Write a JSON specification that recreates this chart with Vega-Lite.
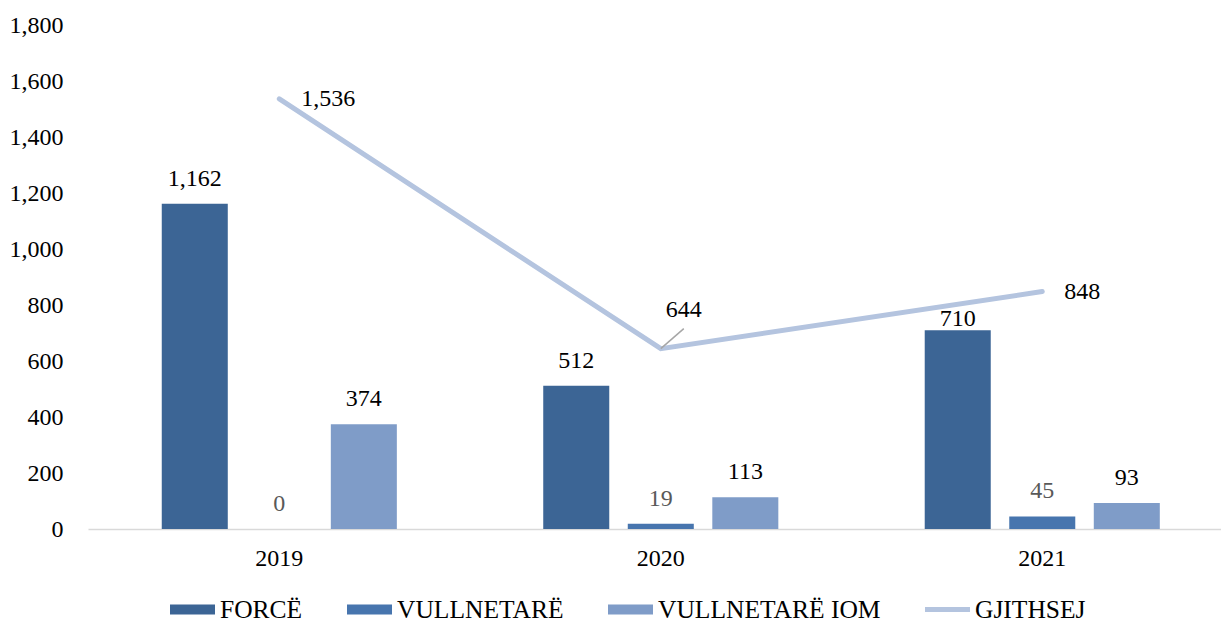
{
  "$schema": "https://vega.github.io/schema/vega-lite/v6.json",
  "autosize": "none",
  "width": 1133,
  "height": 504,
  "padding": {"left": 88, "top": 25, "right": 0, "bottom": 95},
  "config": {
    "font": "Liberation Serif",
    "view": {"stroke": null},
    "axis": {"labelFont": "Liberation Serif", "labelFontSize": 24, "labelColor": "#000000", "grid": false, "ticks": false, "labelOverlap": false, "labelFlush": false}
  },
  "datasets": {
    "bars": [
      {"year": "2019", "series": "FORCË", "value": 1162},
      {"year": "2019", "series": "VULLNETARË", "value": 0},
      {"year": "2019", "series": "VULLNETARË IOM", "value": 374},
      {"year": "2020", "series": "FORCË", "value": 512},
      {"year": "2020", "series": "VULLNETARË", "value": 19},
      {"year": "2020", "series": "VULLNETARË IOM", "value": 113},
      {"year": "2021", "series": "FORCË", "value": 710},
      {"year": "2021", "series": "VULLNETARË", "value": 45},
      {"year": "2021", "series": "VULLNETARË IOM", "value": 93}
    ],
    "totals": [
      {"year": "2019", "total": 1536},
      {"year": "2020", "total": 644},
      {"year": "2021", "total": 848}
    ]
  },
  "encoding": {
    "x": {
      "field": "year", "type": "nominal",
      "scale": {"paddingInner": 0.335, "paddingOuter": 0.1525, "align": 0.554},
      "axis": {"title": null, "labelAngle": 0, "labelPadding": 17, "domainColor": "#D9D9D9", "domainWidth": 1.5}
    },
    "y": {
      "type": "quantitative",
      "scale": {"domain": [0, 1800], "nice": false},
      "axis": {"title": null, "format": ",d", "domain": false, "labelPadding": 25, "values": [0,200,400,600,800,1000,1200,1400,1600,1800]}
    }
  },
  "layer": [
    {
      "data": {"name": "bars"},
      "mark": {"type": "bar"},
      "encoding": {
        "xOffset": {"field": "series", "type": "nominal", "scale": {"paddingInner": 0.219, "paddingOuter": 0.11}, "sort": ["FORCË", "VULLNETARË", "VULLNETARË IOM"]},
        "y": {"field": "value", "type": "quantitative"},
        "color": {
          "field": "series", "type": "nominal",
          "scale": {
            "domain": ["FORCË", "VULLNETARË", "VULLNETARË IOM", "GJITHSEJ"],
            "range": ["#3C6595", "#4775AE", "#7F9CC8", "#B4C4DF"]
          },
          "legend": {
            "title": null,
            "orient": "none",
            "direction": "horizontal",
            "legendX": 82,
            "legendY": 562,
            "padding": 0,
            "columnPadding": 44,
            "labelFont": "Liberation Serif",
            "labelFontSize": 25.5,
            "labelColor": "#000000",
            "labelOffset": 5,
            "labelLimit": 400,
            "symbolSize": 2025,
            "symbolStrokeWidth": 0,
            "symbolOpacity": 1,
            "symbolType": "M-1,-0.22H1V0.22H-1Z",
            "encode": {
              "symbols": {
                "update": {
                  "shape": {"signal": "datum.value === 'GJITHSEJ' ? 'M-1,-0.11H1V0.11H-1Z' : 'M-1,-0.22H1V0.22H-1Z'"}
                }
              }
            }
          }
        }
      }
    },
    {
      "data": {"name": "bars"},
      "transform": [{"filter": "!(datum.year === '2021' && datum.series === 'FORCË')"}],
      "mark": {"type": "text", "baseline": "alphabetic", "dy": -18, "fontSize": 24, "font": "Liberation Serif"},
      "encoding": {
        "xOffset": {"field": "series", "type": "nominal", "scale": {"paddingInner": 0.219, "paddingOuter": 0.11}, "sort": ["FORCË", "VULLNETARË", "VULLNETARË IOM"]},
        "y": {"field": "value", "type": "quantitative"},
        "text": {"field": "value", "type": "quantitative", "format": ","},
        "color": {"condition": {"test": "datum.series === 'VULLNETARË'", "value": "#595959"}, "value": "#000000"}
      }
    },
    {
      "data": {"name": "bars"},
      "transform": [{"filter": "datum.year === '2021' && datum.series === 'FORCË'"}],
      "mark": {"type": "text", "baseline": "alphabetic", "dy": -4, "fontSize": 24, "font": "Liberation Serif", "color": "#000000"},
      "encoding": {
        "xOffset": {"field": "series", "type": "nominal", "scale": {"paddingInner": 0.219, "paddingOuter": 0.11}, "sort": ["FORCË", "VULLNETARË", "VULLNETARË IOM"]},
        "y": {"field": "value", "type": "quantitative"},
        "text": {"field": "value", "type": "quantitative", "format": ","}
      }
    },
    {
      "data": {"name": "totals"},
      "mark": {"type": "line", "strokeWidth": 5, "strokeCap": "round", "strokeJoin": "miter"},
      "encoding": {
        "y": {"field": "total", "type": "quantitative"},
        "color": {"datum": "GJITHSEJ"}
      }
    },
    {
      "data": {"name": "totals"},
      "transform": [{"filter": "datum.year === '2020'"}],
      "mark": {"type": "rule", "color": "#A6A6A6", "strokeWidth": 1.5, "x2Offset": 23, "y2Offset": -20},
      "encoding": {
        "x2": {"field": "year"},
        "y": {"field": "total", "type": "quantitative"},
        "y2": {"field": "total"}
      }
    },
    {
      "data": {"name": "totals"},
      "transform": [{"filter": "datum.year !== '2020'"}],
      "mark": {"type": "text", "align": "left", "baseline": "middle", "dx": 22, "fontSize": 24, "font": "Liberation Serif", "color": "#000000"},
      "encoding": {
        "y": {"field": "total", "type": "quantitative"},
        "text": {"field": "total", "type": "quantitative", "format": ","}
      }
    },
    {
      "data": {"name": "totals"},
      "transform": [{"filter": "datum.year === '2020'"}],
      "mark": {"type": "text", "align": "left", "baseline": "middle", "dx": 5, "dy": -39, "fontSize": 24, "font": "Liberation Serif", "color": "#000000"},
      "encoding": {
        "y": {"field": "total", "type": "quantitative"},
        "text": {"field": "total", "type": "quantitative", "format": ","}
      }
    }
  ]
}
